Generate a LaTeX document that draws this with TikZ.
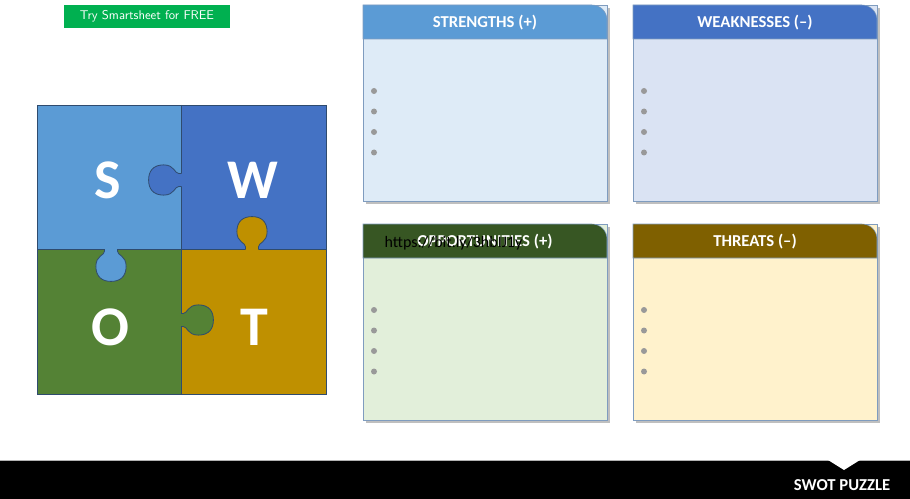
\documentclass[tikz,border=0pt]{standalone}
\usepackage{fontspec}
\setmainfont{Carlito}
\usetikzlibrary{positioning}
\definecolor{sblue}{HTML}{5B9BD5}
\definecolor{wblue}{HTML}{4472C4}
\definecolor{ogreen}{HTML}{548235}
\definecolor{tgold}{HTML}{BF9000}
\definecolor{ohead}{HTML}{375623}
\definecolor{thead}{HTML}{7F6000}
\definecolor{sbody}{HTML}{DEEBF7}
\definecolor{wbody}{HTML}{DAE3F3}
\definecolor{obody}{HTML}{E2EFDA}
\definecolor{tbody}{HTML}{FFF2CC}
\definecolor{cardline}{HTML}{7F9CBF}
\definecolor{pzline}{HTML}{2F4B6E}
\definecolor{btngreen}{HTML}{00B050}
\def\cardw{244}
\def\cardh{196}
\def\headh{34}
\tikzset{
% Puzzle piece
piece/.style={draw=pzline, line width=0.6pt},
% Letter on a piece
letter/.style={text=white, font=\fontsize{42}{44}\selectfont\bfseries},
% Card header text
headtext/.style={text=white, font=\fontsize{12.5}{14}\selectfont\bfseries},
% Bullet
bullet/.style={circle, fill=gray!80, inner sep=0pt, minimum size=4.5pt},
}
% tab: position, rotation, colour
\newcommand{\swottab}[4]{%
  \begin{scope}[shift={(#1,#2)}, rotate=#3, scale=1.08]
    \fill[#4] (-2,-6) -- (2,-6) .. controls (6,-6) and (6,-14) .. (16,-14)
      .. controls (26,-14) and (30,-8) .. (30,0) .. controls (30,8) and (26,14) .. (16,14)
      .. controls (6,14) and (6,6) .. (2,6) -- (-2,6) -- cycle;
    \draw[pzline, line width=0.6pt] (0,-6) -- (2,-6) .. controls (6,-6) and (6,-14) .. (16,-14)
      .. controls (26,-14) and (30,-8) .. (30,0) .. controls (30,8) and (26,14) .. (16,14)
      .. controls (6,14) and (6,6) .. (2,6) -- (0,6);
  \end{scope}}
% card: x, y, name, header colour, body colour, title
\newcommand{\swotcard}[6]{%
  \fill[black!25] (#1+3,#2+3) rectangle ++(\cardw,\cardh);
  \node[draw=cardline, fill=#5, minimum width=\cardw*0.75pt, minimum height=\cardh*0.75pt,
        inner sep=0pt, anchor=north west] (#3) at (#1,#2) {};
  \draw[cardline, fill=#4] (#1,#2+\headh) -- (#1,#2) -- (#1+\cardw-15,#2)
    arc[start angle=-90, end angle=0, radius=15] -- (#1+\cardw,#2+\headh) -- cycle;
  \node[headtext] (#3-title) at (#1+\cardw/2,#2+\headh/2+1) {#6};
  \foreach \k in {0,...,3}
    \node[bullet] (#3-b\k) at (#1+11,#2+86+\k*20.5) {};}
\begin{document}
\begin{tikzpicture}[x=0.75pt, y=-0.75pt]
  \useasboundingbox (0,0) rectangle (910,499);
  % Button
  \node[fill=btngreen, text=white, minimum width=166*0.75pt, minimum height=23*0.75pt,
        inner sep=0pt, font=\fontsize{9.5}{11}\selectfont\sffamily] (try) at (147,16.5)
        {Try Smartsheet for FREE};
  % Puzzle
  \fill[sblue] (37,105) rectangle (181,249);
  \fill[wblue] (181,105) rectangle (326,249);
  \fill[ogreen] (37,249) rectangle (181,394);
  \fill[tgold] (181,249) rectangle (326,394);
  \draw[piece] (37,105) rectangle (326,394);
  \draw[piece] (181,105) -- (181,394);
  \draw[piece] (37,249) -- (326,249);
  \swottab{181}{180}{180}{wblue}
  \swottab{111}{249}{-90}{sblue}
  \swottab{252}{249}{90}{tgold}
  \swottab{181}{320}{0}{ogreen}
  \node[letter] (S) at (108,180) {S};
  \node[letter] (W) at (253,180) {W};
  \node[letter] (O) at (110,327) {O};
  \node[letter] (T) at (254,327) {T};
  % Cards
  \swotcard{363}{5}{str}{sblue}{sbody}{STRENGTHS (+)}
  \swotcard{633}{5}{weak}{wblue}{wbody}{WEAKNESSES (–)}
  \swotcard{363}{224}{opp}{ohead}{obody}{OPPORTUNITIES (+)}
  \swotcard{633}{224}{thr}{thead}{tbody}{THREATS (–)}
  \node[font=\fontsize{12}{14}\selectfont, anchor=west] (url) at (380,243) {https://bit.ly/3hbIJ1y};
  % Footer
  \fill[black] (0,460) rectangle (910,499);
  \draw[gray!60] (0,460) -- (910,460);
  \fill[white] (828,460) -- (860,460) -- (844,470) -- cycle;
  \node[text=white, font=\fontsize{12.5}{14}\selectfont\bfseries, anchor=east] (foot) at (895,485) {SWOT PUZZLE};
\end{tikzpicture}
\end{document}
